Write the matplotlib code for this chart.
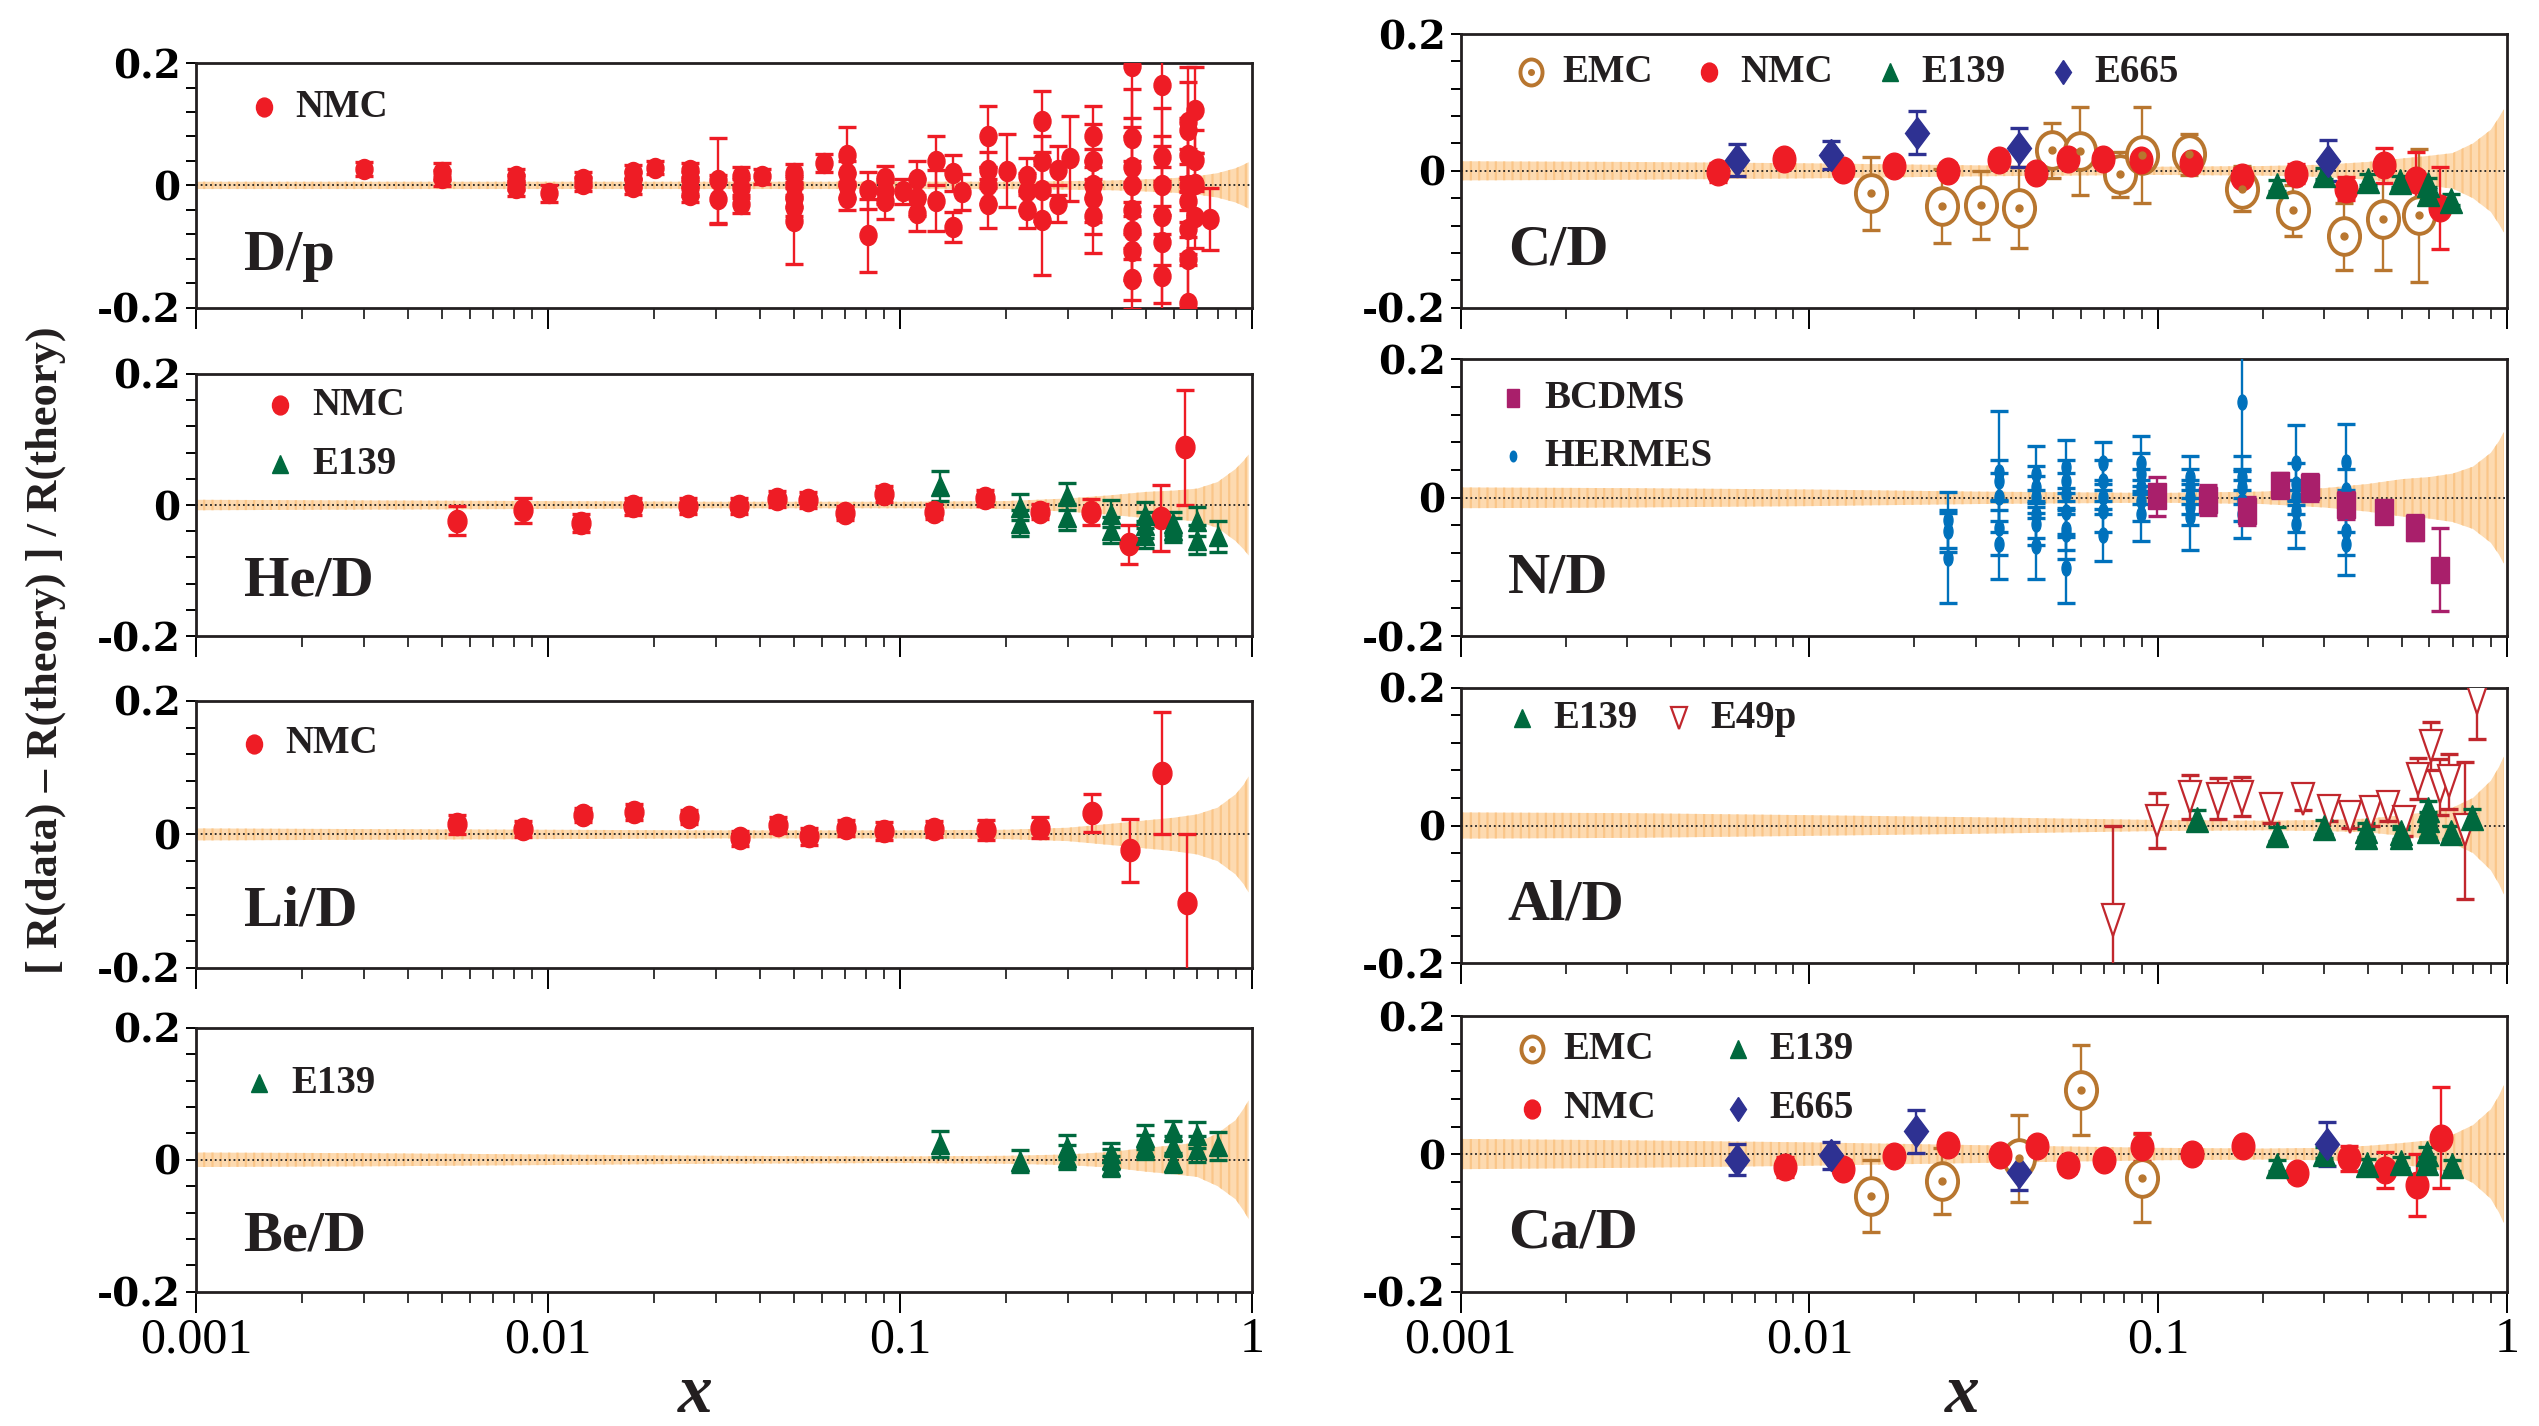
import matplotlib
matplotlib.use("Agg")
import matplotlib.pyplot as plt
from matplotlib.markers import MarkerStyle
from matplotlib.transforms import Affine2D
from matplotlib.ticker import LogLocator, NullFormatter

plt.rcParams['hatch.linewidth'] = 1.6

# ---------------- data ----------------
# theory band: x and half width of the band per panel
band_x = [0.001, 0.003, 0.01, 0.03, 0.1, 0.2, 0.3, 0.4, 0.5, 0.6, 0.7, 0.8, 0.9, 0.95, 0.98]
band_dp = [0.006, 0.006, 0.006, 0.006, 0.006, 0.006, 0.007, 0.008, 0.010, 0.012, 0.015, 0.020, 0.028, 0.034, 0.038]
band_he = [0.008, 0.007, 0.006, 0.005, 0.005, 0.006, 0.010, 0.015, 0.020, 0.022, 0.025, 0.035, 0.055, 0.068, 0.077]
band_li = [0.009, 0.008, 0.007, 0.006, 0.006, 0.007, 0.010, 0.016, 0.021, 0.025, 0.030, 0.040, 0.060, 0.075, 0.087]
band_be = [0.011, 0.010, 0.008, 0.006, 0.005, 0.006, 0.008, 0.012, 0.018, 0.022, 0.026, 0.040, 0.060, 0.078, 0.090]
band_c = [0.014, 0.013, 0.011, 0.008, 0.006, 0.007, 0.009, 0.013, 0.018, 0.022, 0.026, 0.040, 0.060, 0.078, 0.090]
band_n = [0.015, 0.014, 0.012, 0.009, 0.007, 0.009, 0.014, 0.020, 0.027, 0.030, 0.035, 0.045, 0.065, 0.082, 0.095]
band_al = [0.019, 0.018, 0.015, 0.012, 0.008, 0.007, 0.008, 0.010, 0.015, 0.020, 0.026, 0.040, 0.065, 0.085, 0.100]
band_ca = [0.022, 0.020, 0.017, 0.013, 0.009, 0.008, 0.009, 0.012, 0.016, 0.020, 0.028, 0.042, 0.065, 0.085, 0.100]

# D/p
dp_nmc_x = [0.0030, 0.0050, 0.0050, 0.0081, 0.0081, 0.0081, 0.0101, 0.0126, 0.0126, 0.0175, 0.0175, 0.0175,
            0.0202, 0.0253, 0.0253, 0.0253, 0.0253, 0.0304, 0.0304, 0.0353, 0.0353, 0.0353, 0.0405,
            0.050, 0.050, 0.050, 0.050, 0.050, 0.0608, 0.0706, 0.0706, 0.0706, 0.0706, 0.081, 0.081,
            0.0908, 0.0908, 0.0908, 0.1018, 0.1116, 0.1116, 0.1116, 0.127, 0.127, 0.1415, 0.1415, 0.150,
            0.178, 0.178, 0.178, 0.178, 0.202, 0.230, 0.230, 0.230, 0.254, 0.254, 0.254, 0.254, 0.281, 0.281,
            0.305, 0.355, 0.355, 0.355, 0.355, 0.355, 0.456, 0.456, 0.456, 0.456, 0.456, 0.456, 0.456, 0.456,
            0.557, 0.557, 0.557, 0.557, 0.557, 0.557, 0.657, 0.657, 0.657, 0.657, 0.657, 0.657, 0.657, 0.657,
            0.688, 0.688, 0.688, 0.688, 0.760]
dp_nmc_y = [0.027, 0.022, 0.012, 0.015, 0.005, -0.005, -0.013, 0.010, 0.002, 0.022, 0.010, -0.002,
            0.029, 0.025, 0.010, -0.005, -0.015, 0.008, -0.023, 0.015, -0.005, -0.030, 0.015,
            0.020, 0.000, -0.020, -0.035, -0.058, 0.037, 0.050, 0.020, 0.000, -0.020, -0.008, -0.082,
            0.012, -0.010, -0.025, -0.010, 0.010, -0.020, -0.045, 0.040, -0.025, 0.020, -0.068, -0.011,
            0.080, 0.025, 0.000, -0.030, 0.024, 0.015, -0.010, -0.040, 0.105, 0.040, -0.008, -0.057, 0.025, -0.030,
            0.044, 0.080, 0.040, 0.000, -0.020, -0.050, 0.195, 0.077, 0.030, 0.000, -0.040, -0.075, -0.107, -0.153,
            0.164, 0.047, 0.000, -0.050, -0.093, -0.148, 0.104, 0.090, 0.050, 0.000, -0.025, -0.071, -0.120, -0.192,
            0.123, 0.041, 0.003, -0.052, -0.055]
dp_nmc_e = [0.012, 0.014, 0.013, 0.012, 0.012, 0.012, 0.014, 0.012, 0.012, 0.012, 0.012, 0.012,
            0.011, 0.012, 0.012, 0.012, 0.012, 0.070, 0.040, 0.015, 0.015, 0.015, 0.012,
            0.015, 0.015, 0.015, 0.015, 0.070, 0.015, 0.045, 0.020, 0.020, 0.020, 0.030, 0.060,
            0.020, 0.020, 0.030, 0.020, 0.030, 0.030, 0.030, 0.040, 0.050, 0.030, 0.025, 0.030,
            0.050, 0.030, 0.030, 0.040, 0.060, 0.030, 0.030, 0.030, 0.050, 0.040, 0.050, 0.090, 0.040, 0.030,
            0.070, 0.050, 0.060, 0.060, 0.060, 0.060, 0.100, 0.080, 0.080, 0.080, 0.080, 0.080, 0.080, 0.050,
            0.100, 0.080, 0.080, 0.080, 0.100, 0.100, 0.090, 0.080, 0.060, 0.060, 0.060, 0.060, 0.080, 0.080,
            0.070, 0.050, 0.050, 0.050, 0.050]

# He/D
he_nmc_x = [0.0055, 0.0085, 0.01245, 0.0175, 0.025, 0.0349, 0.0449, 0.0549, 0.070, 0.090, 0.125, 0.175,
            0.250, 0.349, 0.449, 0.552, 0.647]
he_nmc_y = [-0.024, -0.008, -0.027, -0.002, -0.002, -0.001, 0.009, 0.008, -0.012, 0.017, -0.010, 0.011,
            -0.010, -0.011, -0.060, -0.020, 0.088]
he_nmc_e = [0.022, 0.019, 0.014, 0.013, 0.012, 0.012, 0.012, 0.012, 0.011, 0.012, 0.011, 0.012,
            0.012, 0.020, 0.030, 0.050, 0.088]
he_e139_x = [0.130, 0.22, 0.22, 0.299, 0.299, 0.398, 0.398, 0.497, 0.497, 0.497, 0.596, 0.596, 0.697, 0.697, 0.80]
he_e139_y = [0.029, -0.003, -0.028, 0.013, -0.018, -0.013, -0.038, -0.015, -0.030, -0.045, -0.028, -0.038,
             -0.025, -0.053, -0.048]
he_e139_e = [0.023, 0.020, 0.020, 0.020, 0.020, 0.020, 0.020, 0.020, 0.020, 0.020, 0.018, 0.018, 0.022, 0.022, 0.024]

# Li/D
li_nmc_x = [0.0055, 0.0085, 0.0126, 0.0176, 0.0251, 0.0351, 0.045, 0.0553, 0.0703, 0.0904, 0.125, 0.176,
            0.251, 0.351, 0.452, 0.556, 0.653]
li_nmc_y = [0.015, 0.008, 0.029, 0.033, 0.026, -0.006, 0.014, -0.003, 0.009, 0.005, 0.008, 0.007,
            0.010, 0.032, -0.024, 0.092, -0.103]
li_nmc_e = [0.014, 0.012, 0.011, 0.012, 0.011, 0.011, 0.012, 0.013, 0.012, 0.014, 0.012, 0.015,
            0.016, 0.029, 0.047, 0.092, 0.103]

# Be/D
be_e139_x = [0.130, 0.22, 0.299, 0.299, 0.398, 0.398, 0.398, 0.497, 0.497, 0.596, 0.596, 0.596, 0.697, 0.697, 0.80]
be_e139_y = [0.024, -0.002, 0.019, 0.004, 0.011, 0.001, -0.009, 0.034, 0.019, 0.044, 0.021, -0.004, 0.038, 0.016, 0.021]
be_e139_e = [0.020, 0.017, 0.018, 0.018, 0.015, 0.015, 0.015, 0.018, 0.018, 0.015, 0.015, 0.015, 0.020, 0.020, 0.021]

# C/D
c_emc_x = [0.01506, 0.024, 0.031, 0.040, 0.0497, 0.0598, 0.078, 0.090, 0.123, 0.174, 0.243, 0.341, 0.441, 0.562]
c_emc_y = [-0.033, -0.051, -0.050, -0.054, 0.030, 0.029, -0.005, 0.023, 0.024, -0.026, -0.058, -0.096, -0.071, -0.065]
c_emc_e = [0.053, 0.054, 0.050, 0.059, 0.040, 0.065, 0.033, 0.070, 0.030, 0.033, 0.037, 0.049, 0.074, 0.097]
c_nmc_x = [0.00548, 0.00847, 0.0125, 0.0175, 0.025, 0.0349, 0.0448, 0.055, 0.0695, 0.0896, 0.124, 0.174,
           0.248, 0.346, 0.445, 0.548, 0.643]
c_nmc_y = [-0.002, 0.017, 0.001, 0.007, 0.000, 0.016, -0.003, 0.018, 0.018, 0.016, 0.012, -0.009,
           -0.004, -0.026, 0.008, -0.013, -0.055]
c_nmc_e = [0.014, 0.012, 0.011, 0.011, 0.011, 0.011, 0.011, 0.011, 0.011, 0.012, 0.012, 0.013,
           0.014, 0.017, 0.026, 0.040, 0.060]
c_e139_x = [0.219, 0.299, 0.399, 0.495, 0.595, 0.595, 0.692]
c_e139_y = [-0.021, -0.004, -0.013, -0.015, -0.019, -0.032, -0.042]
c_e139_e = [0.008, 0.008, 0.008, 0.008, 0.008, 0.008, 0.008]
c_e665_x = [0.0062, 0.01153, 0.0203, 0.040, 0.308]
c_e665_y = [0.016, 0.023, 0.056, 0.034, 0.015]
c_e665_e = [0.023, 0.021, 0.032, 0.029, 0.030]

# N/D
n_bcdms_x = [0.099, 0.139, 0.180, 0.224, 0.272, 0.346, 0.445, 0.545, 0.643]
n_bcdms_y = [0.002, -0.003, -0.019, 0.018, 0.015, -0.011, -0.021, -0.043, -0.104]
n_bcdms_e = [0.028, 0.022, 0.020, 0.018, 0.020, 0.020, 0.012, 0.018, 0.060]
n_hermes_x = [0.025, 0.025, 0.025,
              0.0349, 0.0349, 0.0349, 0.0349, 0.0349,
              0.0448, 0.0448, 0.0448, 0.0448, 0.0448, 0.0448,
              0.0545, 0.0545, 0.0545, 0.0545, 0.0545, 0.0545, 0.0545,
              0.0695, 0.0695, 0.0695, 0.0695, 0.0695,
              0.0896, 0.0896, 0.0896, 0.0896, 0.0896,
              0.1236, 0.1236, 0.1236, 0.1236, 0.1236,
              0.174, 0.174, 0.174, 0.174, 0.174,
              0.248, 0.248, 0.248, 0.248, 0.248,
              0.346, 0.346, 0.346, 0.346, 0.346]
n_hermes_y = [-0.032, -0.048, -0.087,
              0.038, 0.025, 0.001, -0.043, -0.067,
              0.035, 0.016, 0.001, -0.023, -0.038, -0.070,
              0.045, 0.025, 0.006, -0.021, -0.045, -0.053, -0.102,
              0.050, 0.025, 0.001, -0.019, -0.054,
              0.050, 0.035, 0.016, -0.004, -0.023,
              0.030, 0.016, 0.001, -0.014, -0.028,
              0.139, 0.030, 0.016, -0.004, -0.023,
              0.050, 0.020, 0.001, -0.019, -0.038,
              0.052, 0.011, -0.019, -0.048, -0.067]
n_hermes_e = [0.040, 0.030, 0.065,
              0.088, 0.030, 0.035, 0.040, 0.050,
              0.040, 0.030, 0.030, 0.035, 0.030, 0.048,
              0.038, 0.030, 0.030, 0.035, 0.030, 0.035, 0.050,
              0.030, 0.030, 0.025, 0.030, 0.038,
              0.040, 0.030, 0.025, 0.030, 0.040,
              0.030, 0.025, 0.025, 0.025, 0.048,
              0.100, 0.030, 0.025, 0.030, 0.035,
              0.055, 0.030, 0.025, 0.030, 0.035,
              0.055, 0.030, 0.030, 0.035, 0.045]

# Al/D
al_e139_x = [0.129, 0.219, 0.299, 0.395, 0.395, 0.497, 0.497, 0.595, 0.595, 0.595, 0.690, 0.794]
al_e139_y = [0.010, -0.012, -0.002, -0.007, -0.015, -0.010, -0.015, 0.024, 0.010, -0.007, -0.010, 0.012]
al_e139_e = [0.012, 0.010, 0.010, 0.010, 0.010, 0.010, 0.010, 0.012, 0.010, 0.010, 0.010, 0.012]
al_e49p_x = [0.0745, 0.099, 0.1236, 0.1486, 0.174, 0.2114, 0.260, 0.309, 0.355, 0.408, 0.457, 0.508,
             0.557, 0.608, 0.643, 0.682, 0.759, 0.821]
al_e49p_y = [-0.137, 0.007, 0.042, 0.039, 0.042, 0.024, 0.038, 0.021, 0.012, 0.020, 0.027, 0.005,
             0.068, 0.115, 0.056, 0.064, -0.007, 0.186]
al_e49p_e = [0.137, 0.040, 0.032, 0.030, 0.028, 0.020, 0.015, 0.015, 0.015, 0.020, 0.020, 0.020,
             0.030, 0.035, 0.040, 0.040, 0.100, 0.060]

# Ca/D
ca_emc_x = [0.015, 0.024, 0.040, 0.060, 0.090]
ca_emc_y = [-0.061, -0.039, -0.006, 0.093, -0.035]
ca_emc_e = [0.052, 0.048, 0.063, 0.065, 0.064]
ca_nmc_x = [0.0085, 0.0125, 0.0175, 0.025, 0.0352, 0.0449, 0.055, 0.070, 0.090, 0.125, 0.175, 0.251,
            0.352, 0.449, 0.552, 0.649]
ca_nmc_y = [-0.019, -0.021, -0.003, 0.013, -0.001, 0.012, -0.016, -0.008, 0.010, 0.000, 0.011, -0.028,
            -0.006, -0.023, -0.045, 0.024]
ca_nmc_e = [0.015, 0.012, 0.011, 0.011, 0.011, 0.011, 0.011, 0.011, 0.020, 0.011, 0.011, 0.011,
            0.018, 0.026, 0.045, 0.074]
ca_e139_x = [0.219, 0.299, 0.397, 0.497, 0.590, 0.590, 0.696]
ca_e139_y = [-0.016, 0.002, -0.015, -0.012, 0.002, -0.012, -0.016]
ca_e139_e = [0.008, 0.008, 0.008, 0.008, 0.008, 0.008, 0.008]
ca_e665_x = [0.0062, 0.0115, 0.0202, 0.040, 0.306]
ca_e665_y = [-0.008, -0.002, 0.033, -0.026, 0.015]
ca_e665_e = [0.023, 0.019, 0.031, 0.026, 0.032]

# ---------------- styles ----------------
red = '#ee1c25'
green = '#00693e'
navy = '#2e3192'
brown = '#b8762f'
magenta = '#a91f6b'
blue = '#0071bc'
darkred = '#c1272d'
band_face = '#fddab0'
band_edge = '#fac689'


def stretched(m, sx):
    return MarkerStyle(m, transform=Affine2D().scale(sx, 1.0))


styles = {
    'NMC': dict(marker=stretched('o', 0.85), ms=16, mfc=red, mec=red, mew=1, color=red),
    'E139': dict(marker=stretched('^', 0.9), ms=15, mfc=green, mec=green, mew=1, color=green),
    'E665': dict(marker=stretched('D', 0.72), ms=14, mfc=navy, mec=navy, mew=1, color=navy),
    'EMC': dict(marker=stretched('o', 0.85), ms=22, mfc='white', mec=brown, mew=2.8, color=brown),
    'BCDMS': dict(marker=stretched('s', 0.65), ms=16, mfc=magenta, mec=magenta, mew=1, color=magenta),
    'HERMES': dict(marker=stretched('o', 0.6), ms=9, mfc=blue, mec=blue, mew=1, color=blue),
    'E49p': dict(marker=stretched('v', 0.7), ms=19, mfc='white', mec=darkred, mew=1.6, color=darkred),
}

serif = 'Liberation Serif'

# axes rectangles in figure fractions: [left, bottom, width, height]
panels = [
    dict(label='D/p', rect=[0.0772, 0.7843, 0.4158, 0.1714], band=band_dp, bottom=False, mscale=0.9,
         sets=[('NMC', dp_nmc_x, dp_nmc_y, dp_nmc_e)],
         legend=[('NMC', 0.064, 0.82)]),
    dict(label='He/D', rect=[0.0772, 0.5539, 0.4158, 0.1839], band=band_he, bottom=False, mscale=1.0,
         sets=[('NMC', he_nmc_x, he_nmc_y, he_nmc_e), ('E139', he_e139_x, he_e139_y, he_e139_e)],
         legend=[('NMC', 0.08, 0.88), ('E139', 0.08, 0.655)]),
    dict(label='Li/D', rect=[0.0772, 0.3212, 0.4158, 0.1873], band=band_li, bottom=False, mscale=1.0,
         sets=[('NMC', li_nmc_x, li_nmc_y, li_nmc_e)],
         legend=[('NMC', 0.055, 0.84)]),
    dict(label='Be/D', rect=[0.0772, 0.0942, 0.4158, 0.1850], band=band_be, bottom=True, mscale=1.0,
         sets=[('E139', be_e139_x, be_e139_y, be_e139_e)],
         legend=[('E139', 0.06, 0.79)]),
    dict(label='C/D', rect=[0.5753, 0.7843, 0.4120, 0.1918], band=band_c, bottom=False, mscale=1.2,
         sets=[('EMC', c_emc_x, c_emc_y, c_emc_e), ('NMC', c_nmc_x, c_nmc_y, c_nmc_e),
               ('E139', c_e139_x, c_e139_y, c_e139_e), ('E665', c_e665_x, c_e665_y, c_e665_e)],
         legend=[('EMC', 0.067, 0.86), ('NMC', 0.237, 0.86), ('E139', 0.41, 0.86), ('E665', 0.576, 0.86)]),
    dict(label='N/D', rect=[0.5753, 0.5539, 0.4120, 0.1940], band=band_n, bottom=False, mscale=1.2,
         sets=[('HERMES', n_hermes_x, n_hermes_y, n_hermes_e), ('BCDMS', n_bcdms_x, n_bcdms_y, n_bcdms_e)],
         legend=[('BCDMS', 0.05, 0.86), ('HERMES', 0.05, 0.65)]),
    dict(label='Al/D', rect=[0.5753, 0.3246, 0.4120, 0.1930], band=band_al, bottom=False, mscale=1.2,
         sets=[('E49p', al_e49p_x, al_e49p_y, al_e49p_e), ('E139', al_e139_x, al_e139_y, al_e139_e)],
         legend=[('E139', 0.059, 0.89), ('E49p', 0.209, 0.89)]),
    dict(label='Ca/D', rect=[0.5753, 0.0942, 0.4120, 0.1930], band=band_ca, bottom=True, mscale=1.2,
         sets=[('EMC', ca_emc_x, ca_emc_y, ca_emc_e), ('NMC', ca_nmc_x, ca_nmc_y, ca_nmc_e),
               ('E139', ca_e139_x, ca_e139_y, ca_e139_e), ('E665', ca_e665_x, ca_e665_y, ca_e665_e)],
         legend=[('EMC', 0.068, 0.88), ('E139', 0.265, 0.88), ('NMC', 0.068, 0.665), ('E665', 0.265, 0.665)]),
]


def draw_set(ax, key, x, y, e, k):
    st = styles[key]
    ax.errorbar(x, y, yerr=e, fmt='none', ecolor=st['color'], elinewidth=1.7,
                capsize=6.5, capthick=2.4, zorder=3)
    ax.plot(x, y, linestyle='none', marker=st['marker'], ms=st['ms'] * k, mfc=st['mfc'],
            mec=st['mec'], mew=st['mew'], zorder=4)
    if key == 'EMC':
        ax.plot(x, y, linestyle='none', marker='o', ms=5, color=brown, zorder=5)


def legend_entry(ax, key, lx, ly):
    st = styles[key]
    ax.plot([lx], [ly], transform=ax.transAxes, linestyle='none', marker=st['marker'],
            ms=st['ms'] * 0.85, mfc=st['mfc'], mec=st['mec'], mew=st['mew'], clip_on=False, zorder=6)
    if key == 'EMC':
        ax.plot([lx], [ly], transform=ax.transAxes, marker='o', ms=4, color=brown,
                linestyle='none', clip_on=False, zorder=7)
    ax.text(lx + 0.03, ly, key, transform=ax.transAxes, ha='left', va='center',
            fontsize=28, fontweight='bold', family=serif, color='#231f20')


fig = plt.figure(figsize=(25.39, 14.26), dpi=100)

for p in panels:
    ax = fig.add_axes(p['rect'])
    ax.set_xscale('log')
    ax.set_xlim(0.001, 1)
    ax.set_ylim(-0.2, 0.2)

    ax.fill_between(band_x, [-v for v in p['band']], p['band'], facecolor=band_face,
                    edgecolor=band_edge, hatch='||', linewidth=0, zorder=1)
    ax.axhline(0, color='#222222', linestyle=(0, (1, 1.6)), linewidth=1.3, zorder=2)

    for key, x, y, e in p['sets']:
        draw_set(ax, key, x, y, e, p['mscale'])
    for key, lx, ly in p['legend']:
        legend_entry(ax, key, lx, ly)

    ax.text(0.045, 0.21, p['label'], transform=ax.transAxes, ha='left', va='center',
            fontsize=42, fontweight='bold', family=serif, color='#231f20')

    for s in ax.spines.values():
        s.set_linewidth(2.0)
        s.set_color('#231f20')

    ax.set_yticks([-0.2, 0, 0.2])
    ax.set_yticklabels(['-0.2', '0', '0.2'], fontsize=28, fontweight='bold', family='DejaVu Serif')
    ax.set_yticks([-0.16, -0.12, -0.08, -0.04, 0.04, 0.08, 0.12, 0.16], minor=True)
    ax.tick_params(axis='y', which='both', direction='out', length=7, width=1.4, pad=4, right=False)

    ax.set_xticks([0.001, 0.01, 0.1, 1])
    ax.xaxis.set_minor_locator(LogLocator(base=10, subs=[2, 3, 4, 5, 6, 7, 8, 9]))
    ax.xaxis.set_minor_formatter(NullFormatter())
    ax.tick_params(axis='x', which='major', direction='out', length=15, width=1.4, pad=3, top=False)
    ax.tick_params(axis='x', which='minor', direction='out', length=8, width=1.1, top=False)
    if p['bottom']:
        ax.set_xticklabels(['0.001', '0.01', '0.1', '1'], fontsize=36, family=serif)
    else:
        ax.set_xticklabels([])

fig.text(0.018, 0.544, '[ R(data) – R(theory) ] / R(theory)', rotation=90, ha='center', va='center',
         fontsize=32, fontweight='bold', family=serif, color='#231f20')
fig.text(0.274, 0.022, 'x', ha='center', va='center', fontsize=50, style='italic',
         fontweight='bold', family=serif, color='#231f20')
fig.text(0.773, 0.022, 'x', ha='center', va='center', fontsize=50, style='italic',
         fontweight='bold', family=serif, color='#231f20')

fig.savefig('out.png', dpi=100)
